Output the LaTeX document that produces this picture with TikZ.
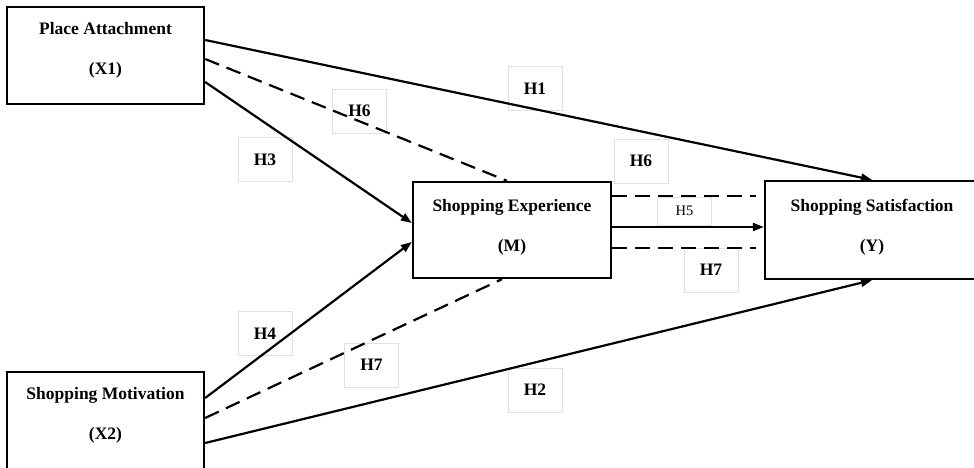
\documentclass[tikz,border=0pt]{standalone}
\usepackage{fontspec}
\setmainfont{Liberation Serif}
\usetikzlibrary{arrows.meta}

\tikzset{
  var/.style={draw,rectangle,inner sep=0pt,line width=2.3pt,minimum width=197pt,minimum height=97pt},
  vartext/.style={font=\fontsize{17.5}{20}\selectfont\bfseries,align=center,yshift=5pt},
  hyp/.style={draw=black!12,line width=0.7pt,minimum width=54pt,minimum height=44pt,inner sep=0pt,
    font=\fontsize{17.5}{20}\selectfont\bfseries},
}

\begin{document}
\begin{tikzpicture}[x=1pt,y=-1pt,line width=2.2pt,>={Triangle[length=11pt,width=8pt]}]

  \useasboundingbox (0,0) rectangle (974,468);

  % variables
  \node[var,label={[vartext]center:Place Attachment\\[20pt](X1)}] (X1) at (105.5,55.5) {};
  \node[var,label={[vartext]center:Shopping Motivation\\[20pt](X2)}] (X2) at (105.5,420.5) {};
  \node[var,minimum width=198pt,minimum height=96pt,
        label={[vartext,yshift=-2pt]center:Shopping Experience\\[20pt](M)}] (M) at (512,230) {};
  \node[var,minimum width=214pt,minimum height=98pt,
        label={[vartext,yshift=-2pt]center:Shopping Satisfaction\\[20pt](Y)}] (Y) at (872,230) {};

  % hypothesis boxes
  \node[hyp] (h1)  at (535,88.5)  {H1};
  \node[hyp] (h2)  at (535,390)   {H2};
  \node[hyp] (h3)  at (265,159.5) {H3};
  \node[hyp] (h4)  at (265,333.5) {H4};
  \node[hyp,minimum height=28pt,font=\fontsize{14.5}{16}\selectfont] (h5) at (684.5,211) {H5};
  \node[hyp] (h6a) at (359.5,111) {H6};
  \node[hyp] (h6b) at (641,161)   {H6};
  \node[hyp] (h7a) at (371.5,365) {H7};
  \node[hyp] (h7b) at (711,270)   {H7};

  \begin{scope}[every edge/.style={draw,->}]
    \path ([yshift=15.5pt]X1.east)  edge (Y.north);
    \path ([yshift=-26.5pt]X1.east) edge ([yshift=7pt]M.west);
    \path ([yshift=22.5pt]X2.east)  edge ([yshift=-12pt]M.west);
    \path ([yshift=-22.5pt]X2.east) edge (Y.south);
    \path ([yshift=3pt]M.east)      edge ([yshift=3pt]Y.west);
  \end{scope}

  \begin{scope}[every edge/.style={draw,dash pattern=on 15pt off 8pt}]
    \path ([yshift=-3.5pt]X1.east) edge ([xshift=-5pt]M.north);
    \path ([yshift=2.5pt]X2.east)  edge ([xshift=-10pt]M.south);
    \path ([yshift=34pt]M.east)    edge[shorten >=8pt] ([yshift=34pt]Y.west);
    \path ([yshift=-18pt]M.east)   edge[shorten >=8pt] ([yshift=-18pt]Y.west);
  \end{scope}

\end{tikzpicture}
\end{document}
